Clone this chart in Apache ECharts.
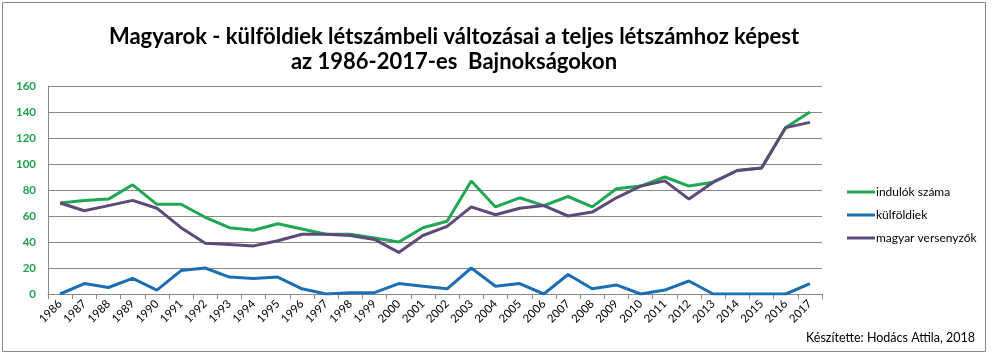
<!DOCTYPE html>
<html><head><meta charset="utf-8">
<script src="https://cdn.jsdelivr.net/npm/echarts@6/dist/echarts.min.js"></script>
<style>html,body{margin:0;padding:0;background:#fff}#c{width:994px;height:354px}</style>
</head><body><div id="c"></div>
<script>
const years = ['1986','1987','1988','1989','1990','1991','1992','1993','1994','1995','1996','1997','1998','1999','2000','2001','2002','2003','2004','2005','2006','2007','2008','2009','2010','2011','2012','2013','2014','2015','2016','2017'];
const indulok = [70,72,73,84,69,69,59,51,49,54,50,46,46,43,40,51,56,87,67,74,68,75,67,81,83,90,83,86,95,97,128,140];
const kulfoldiek = [0,8,5,12,3,18,20,13,12,13,4,0,1,1,8,6,4,20,6,8,0,15,4,7,0,3,10,0,0,0,0,8];
const magyar = [70,64,68,72,66,51,39,38,37,41,46,46,45,42,32,45,52,67,61,66,68,60,63,74,83,87,73,86,95,97,128,132];
const seriesNames = ['indulók száma','külföldiek','magyar versenyzők'];
const yTicks = {min:0,max:160,interval:20};

const chart = echarts.init(document.getElementById('c'));
const font = 'Lato, "Open Sans", sans-serif';
chart.setOption({
  animation:false,
  title:{text:'Magyarok - külföldiek létszámbeli változásai a teljes létszámhoz képest\naz 1986-2017-es  Bajnokságokon',
    left:449, top:19, textAlign:'center',
    textStyle:{fontFamily:font,fontWeight:'bold',fontSize:22,color:'#000',lineHeight:25}},
  graphic:[
    {type:'rect',shape:{x:2.5,y:2.5,width:983,height:349},style:{fill:null,stroke:'#888',lineWidth:1},silent:true},
    {type:'text',left:806,top:331,style:{text:'Készítette: Hodács Attila, 2018',fontFamily:font,fontSize:12.5,fill:'#000'}}
  ],
  legend:{orient:'vertical',left:842,top:181,itemWidth:28,itemHeight:3,itemGap:11,icon:'rect',
    textStyle:{fontFamily:font,fontSize:12,color:'#000',padding:[0,0,0,-4]},
    data:seriesNames},
  grid:{left:48,right:172,top:86,bottom:60},
  xAxis:{type:'category',data:years,boundaryGap:true,
    axisLine:{lineStyle:{color:'#888'}},
    axisTick:{show:true,length:5,lineStyle:{color:'#888'},alignWithLabel:false},
    axisLabel:{rotate:45,fontFamily:font,fontSize:11.5,color:'#000',interval:0,margin:8}},
  yAxis:{type:'value',min:yTicks.min,max:yTicks.max,interval:yTicks.interval,
    axisLine:{show:true,lineStyle:{color:'#888'}},
    axisTick:{show:false},
    splitLine:{lineStyle:{color:'#888'}},
    axisLabel:{fontFamily:font,fontSize:11.5,fontWeight:'bold',color:'#1ea04f',margin:12}},
  series:[
    {name:seriesNames[0],type:'line',data:indulok,symbol:'none',lineStyle:{width:3,color:'#21a654'},itemStyle:{color:'#21a654'}},
    {name:seriesNames[1],type:'line',data:kulfoldiek,symbol:'none',lineStyle:{width:3,color:'#1b6eb4'},itemStyle:{color:'#1b6eb4'}},
    {name:seriesNames[2],type:'line',data:magyar,symbol:'none',lineStyle:{width:3,color:'#5e4a78'},itemStyle:{color:'#5e4a78'}}
  ]
});
</script></body></html>
